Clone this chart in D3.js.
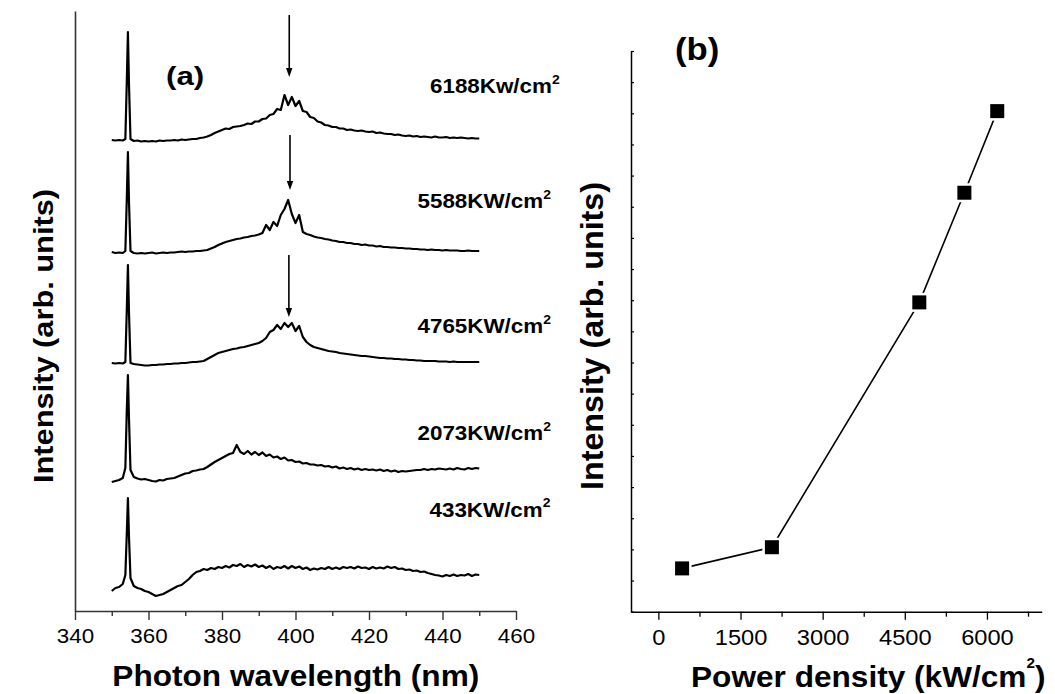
<!DOCTYPE html>
<html><head><meta charset="utf-8">
<script src="https://cdn.jsdelivr.net/npm/d3@7"></script>
<style>body{margin:0;background:#fff} svg{display:block}</style>
</head><body>
<svg id="c" width="1055" height="694"></svg>
<script>
// ---------- DATA ----------
const wavelengths = [350,351,352,353,353.7,354.1,354.4,354.7,355.1,
356,357,358,359,360,361,362,363,364,365,
366,367,368,369,370,371,372,373,374,375,
376,377,378,379,380,381,382,383,384,385,
386,387,388,389,390,391,392,393,394,395,
396,397,398,399,400,401,402,403,404,405,
406,407,408,409,410,411,412,413,414,415,
416,417,418,419,420,421,422,423,424,425,
426,427,428,429,430,431,432,433,434,435,
436,437,438,439,440,441,442,443,444,445,
446,447,448,449,450];

const powerLabels = ["6188Kw/cm", "5588KW/cm", "4765KW/cm", "2073KW/cm", "433KW/cm"];
const offsets = [470, 358, 247, 131, 18];

const s6188 = [1,0.5,1,0.5,2,60,109,55,2,
0,0.5,-0.5,0,-0.5,0,-0.5,0.5,0,0.5,
0.5,1,0.5,1.5,1,1.5,2,2,3,3.5,
4.5,6,8,9.5,11,12.5,12,14,14.5,15,
16,17.5,17,19.5,19.5,22,22.5,26,27,32,
31,46,36,44,35,40,30,29,24,23,
19.5,18.5,16,15.5,14,14,12.5,12.5,11,11.5,
10.5,10,10.5,9.5,9,9.5,8,8.5,7.5,7,
7,6,6.5,5.5,5,5.5,4.5,5,4,4.5,
4,3.5,4.5,3.5,3.5,4,3,3.5,3,3.5,
3,2.5,3,2.5,2.5];

const s5588 = [1,0,0.5,0,2,55,101,50,2,
0,-0.5,0,-0.5,0,0.5,-0.5,0,0.5,0,
0.5,0.5,1,1.5,1,1.5,1.5,2,2,2.5,
3,4.5,6,8,9.5,11,12,13,14,14.5,
15.5,16,17,17.5,18.5,20,28,23,31,27,
38,44,53,39,30,38,21,19,18,16.5,
15.5,15,14,13.5,12.5,12,11,11,10,10,
9,9,8,8.5,7.5,7.5,6.5,7,6,6,
5.5,5.5,5,5,4.5,4.5,4,4,3.5,3.5,
3,3.5,3,3,2.5,3,2.5,2.5,2.5,2,
2,2.5,2,2,2];

const s4765 = [1,0.5,1,0.5,2,55,99,50,1,
0,-0.5,-1,-1.5,-1.5,-1,-1,-0.5,-0.5,0,
0,0.5,0.5,1,1,1.5,2,2,2.5,3,
5,7,9,11,12,13,14,15,15.5,16.5,
17,18,19,20,21,23,26,32,34,39,
35,41,37,41,33,38,27,22,19,17,
16,15,14,13,12.5,12,11,10.5,10,9.5,
9,8.5,8,8,7.5,7,6.5,6,6,5.5,
5.5,5,5,4.5,4.5,4,4,3.5,3.5,3,
3,3,3,2.5,2.5,2.5,2,2.5,2,2,
2,2,2,2,2];

const s2073 = [-2,-1,0,2,12,70,105,60,10,
3,1.5,0.5,1,0,-1,-1.5,0,-0.5,1,
1.5,2,3.5,5,6.5,7,9,9.5,10.5,11,
13,15.5,18,20,22,24,26,27,35,28,
26,29,25.5,28,25,27.5,24,25.5,22.5,23.5,
21,22.5,19.5,20,18,18.5,16.5,17,15.5,15.5,
14.5,15,13.5,14,12.5,13.5,11.5,12.5,11,12,
10.5,11.5,10,11,10,10.5,9.5,10.5,9,10,
8.5,9.5,8,9,8.5,9,9.5,10,10,11,
10,11,10.5,11.5,11,10.5,11.5,10.5,12,11,
10.5,12,11,12,11.5];

const s433 = [2,5,6,9,18,60,95,55,15,
7,5,4,2,1,-1,-3,-2,-1,1,
3,5,7,8,11,14,18,21,22,24,
23,25,24,26,25,27,25.5,28,27,29,
26,28,26.5,28.5,26,27.5,25,27,24,26,
25,27,24.5,27,25,26.5,24,25.5,23,24.5,
23.5,25,24,26,24,25.5,24,26,25,26,
24.5,26.5,25,25.5,24,26,24.5,25.5,24.5,26.5,
25,26,24,24.5,23,23.5,22,22.5,21,21.5,
20,19,18,17.5,16.5,18,17,18.5,17,18,
17.5,19,17,18.5,18];

const spectra = [s6188, s5588, s4765, s2073, s433];

// arrows: wavelength, start intensity, tip intensity
const arrowWl = [398.3, 398.5, 398.2];
const arrowFrom = [596, 476, 356];
const arrowTo = [534, 421, 294];

const xTicksL = [340,360,380,400,420,440,460];
const xMinorL = [350,370,390,410,430,450];

// panel (b)
const powerDensity = [433, 2073, 4765, 5588, 6188];
const peakIntensity = [1.39, 2.07, 9.93, 13.45, 16.07];
const xTicksR = [0,1500,3000,4500,6000];
const xMinorR = [750,2250,3750,5250,6750];
const yTicksR = d3.range(0, 19, 1);

// ---------- DRAW ----------
const FONT = '"Liberation Sans", Arial, Helvetica, sans-serif';
const svg = d3.select('#c');

function txt(parent, x, y, parts, size, sx, opts = {}) {
  const t = parent.append('text')
    .attr('transform', `translate(${x},${y})` + (opts.rot ? ` rotate(${opts.rot})` : '') + ` scale(${sx},1)`)
    .attr('font-family', FONT).attr('font-size', size)
    .attr('font-weight', opts.bold ? 'bold' : 'normal')
    .attr('text-anchor', opts.anchor || 'start').attr('fill', '#000');
  parts.forEach(p => {
    const ts = t.append('tspan').text(p[0]);
    if (p[1]) ts.attr('dy', p[1]);
    if (p[2]) ts.attr('font-size', p[2]);
    if (p[3]) ts.attr('dx', p[3]);
  });
  return t;
}

// ---- Left panel ----
const xL = d3.scaleLinear().domain([340, 460]).range([75, 516]);
const yL = d3.scaleLinear().domain([0, 600]).range([611, 11]);
const gL = svg.append('g');

const axL = gL.append('g').attr('transform', `translate(0,${yL(0)})`)
  .call(d3.axisBottom(xL).tickValues(xTicksL).tickSize(9).tickSizeOuter(0).tickFormat(d3.format('d')));
axL.select('.domain').attr('stroke', '#333').attr('stroke-width', 1.6);
axL.selectAll('.tick line').attr('stroke', '#333').attr('stroke-width', 1.4);
axL.selectAll('.tick text').attr('font-family', FONT).attr('font-size', 20).attr('fill', '#000')
  .attr('y', 32.3).attr('dy', 0).attr('transform', 'scale(1.12,1)');
const axLm = gL.append('g').attr('transform', `translate(0,${yL(0)})`)
  .call(d3.axisBottom(xL).tickValues(xMinorL).tickSize(5).tickSizeOuter(0).tickFormat(''));
axLm.select('.domain').remove();
axLm.selectAll('.tick line').attr('stroke', '#333').attr('stroke-width', 1.4);

// left y axis (no ticks)
const ayL = gL.append('g').attr('transform', `translate(${xL(340)},0)`)
  .call(d3.axisLeft(yL).tickValues([]).tickSizeOuter(0));
ayL.select('.domain').attr('stroke', '#333').attr('stroke-width', 1.6);

const line = d3.line().x((d, i) => xL(wavelengths[i])).y(d => yL(d));
spectra.forEach((s, k) => {
  gL.append('path').datum(s.map(v => v + offsets[k])).attr('d', line)
    .attr('fill', 'none').attr('stroke', '#000').attr('stroke-width', 2.2)
    .attr('stroke-linejoin', 'round');
});

arrowWl.forEach((w, i) => {
  const x = xL(w), y0 = yL(arrowFrom[i]), y1 = yL(arrowTo[i]);
  gL.append('line').attr('x1', x).attr('x2', x).attr('y1', y0).attr('y2', y1 - 6)
    .attr('stroke', '#000').attr('stroke-width', 1.6);
  gL.append('path').attr('d', `M${x - 3.2},${y1 - 9}L${x + 3.2},${y1 - 9}L${x},${y1}Z`).attr('fill', '#000');
});

// power labels
const labX = [430, 417.5, 417.5, 417.5, 429.5];
const labY = [93.3, 208.3, 333.3, 440, 516.7];
powerLabels.forEach((l, i) => {
  txt(gL, labX[i], labY[i], [[l], ['2', -9.5, 12.5]], 20, 1.12, {bold: true});
});

txt(gL, 166, 85, [['(a)']], 25, 1.25, {bold: true});
txt(gL, 295.8, 686, [['Photon wavelength (nm)']], 29, 1.09, {bold: true, anchor: 'middle'});
txt(gL, 53, 336, [['Intensity (arb. units)']], 28.5, 1.08, {bold: true, anchor: 'middle', rot: -90});

// ---- Right panel ----
const xR = d3.scaleLinear().domain([-500, 7000]).range([631, 1041.7]);
const yR = d3.scaleLinear().domain([0, 18]).range([611.7, 51]);
const gR = svg.append('g');

const axR = gR.append('g').attr('transform', `translate(0,${yR(0)})`)
  .call(d3.axisBottom(xR).tickValues(xTicksR).tickSize(8).tickSizeOuter(0).tickFormat(d3.format('d')));
axR.select('.domain').attr('stroke', '#000').attr('stroke-width', 1.5);
axR.selectAll('.tick line').attr('stroke', '#000').attr('stroke-width', 1.3);
axR.selectAll('.tick text').attr('font-family', FONT).attr('font-size', 21.5).attr('fill', '#000')
  .attr('y', 33.3).attr('dy', 0).attr('transform', 'scale(1.1,1)');
const axRm = gR.append('g').attr('transform', `translate(0,${yR(0)})`)
  .call(d3.axisBottom(xR).tickValues(xMinorR).tickSize(5).tickSizeOuter(0).tickFormat(''));
axRm.select('.domain').remove();
axRm.selectAll('.tick line').attr('stroke', '#000').attr('stroke-width', 1.3);

const ayR = gR.append('g').attr('transform', `translate(${xR(-500)},0)`)
  .call(d3.axisRight(yR).tickValues(yTicksR).tickSize(3).tickSizeOuter(0).tickFormat(''));
ayR.select('.domain').attr('stroke', '#000').attr('stroke-width', 1.5);
ayR.selectAll('.tick line').attr('stroke', '#000').attr('stroke-width', 1.2);

const lineR = d3.line().x((d, i) => xR(powerDensity[i])).y(d => yR(d));
gR.append('path').datum(peakIntensity).attr('d', lineR)
  .attr('fill', 'none').attr('stroke', '#000').attr('stroke-width', 1.6);
gR.selectAll('rect.gap').data(peakIntensity).enter().append('rect')
  .attr('x', (d, i) => xR(powerDensity[i]) - 9.5).attr('y', d => yR(d) - 9.5)
  .attr('width', 19).attr('height', 19).attr('fill', '#fff');
gR.selectAll('rect.pt').data(peakIntensity).enter().append('rect')
  .attr('x', (d, i) => xR(powerDensity[i]) - 7).attr('y', d => yR(d) - 7)
  .attr('width', 14).attr('height', 14).attr('fill', '#000');

txt(gR, 691, 687, [['Power density (kW/cm'], ['2', -19, 14], [')', 19, 29]], 29, 1.09, {bold: true});
txt(gR, 675, 60, [['(b)']], 31, 1.12, {bold: true});
txt(gR, 603, 336, [['Intensity (arb. units)']], 31, 1.04, {bold: true, anchor: 'middle', rot: -90});
</script>
</body></html>
